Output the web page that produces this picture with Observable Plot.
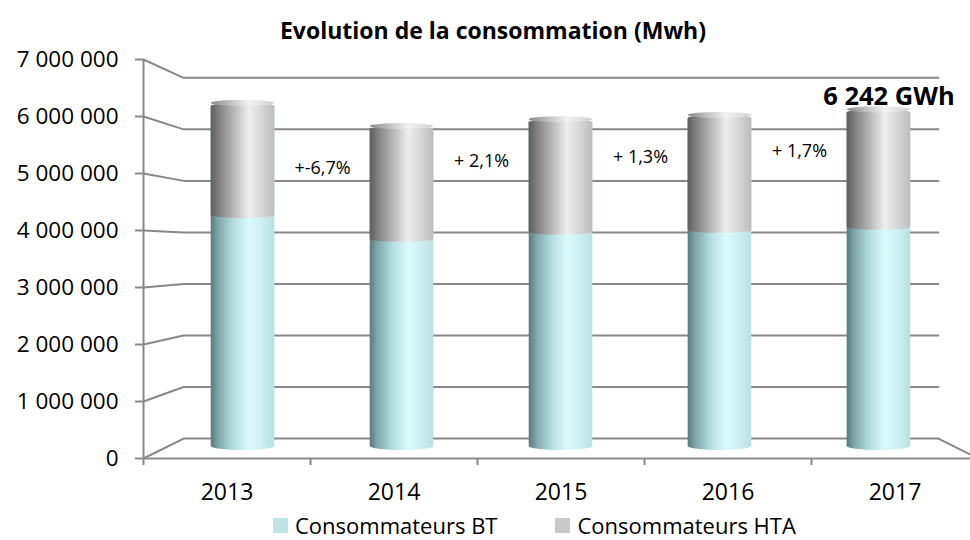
<!DOCTYPE html>
<html>
<head>
<meta charset="utf-8">
<script src="https://cdn.jsdelivr.net/npm/d3@7"></script>
<script src="https://cdn.jsdelivr.net/npm/@observablehq/plot@0.6"></script>
<style>
  body { margin: 0; background: #fff; font-family: "Open Sans", sans-serif; }
  #wrap { width: 970px; height: 540px; position: relative; }
  #title { height: 46px; line-height: 60px; text-align: center; font-weight: bold; font-size: 23px; color: #000; padding-left: 16px; box-sizing: border-box; }
  #legend { display: flex; justify-content: flex-start; align-items: center; gap: 58px; font-size: 22px; line-height: 26px; color: #000; height: 26px; padding-left: 273px; box-sizing: border-box; }
  #legend .item { display: flex; align-items: center; gap: 7px; }
  #legend .sw { width: 15px; height: 15px; display: inline-block; }
  svg { display: block; overflow: visible; }
</style>
</head>
<body>
<div id="wrap">
  <div id="title">Evolution de la consommation (Mwh)</div>
  <div id="chart"></div>
  <div id="legend"></div>
</div>
<script>
// ---- data ----
const years = ["2013", "2014", "2015", "2016", "2017"];
const seriesNames = ["Consommateurs BT", "Consommateurs HTA"];
const bt  = [4240000, 3800000, 3930000, 3965000, 4020000];
const hta = [2120000, 2134000, 2129000, 2173000, 2222000];
const growthLabels = ["+-6,7%", "+ 2,1%", "+ 1,3%", "+ 1,7%"];
const yTicks = [0, 1000000, 2000000, 3000000, 4000000, 5000000, 6000000, 7000000];
const swatchColors = ["#bfe4e5", "#c9c9c9"];

// ---- pseudo-3D projection (in data units) ----
const n = years.length;
const center = {x: n / 2, y: 3650000};
const FRONT = 1, MID = 0.952, BACK = 0.904;
const px = (x, s) => center.x + s * (x - center.x);
const py = (y, s) => center.y + s * (y - center.y);
const fmt = v => d3.format(",")(v).replace(/,/g, " ");

const totals = bt.map((b, i) => b + hta[i]);
const bars = years.map((yr, i) => ({
  i, yr, total: totals[i],
  x1: px(i + 0.3, MID), x2: px(i + 0.7, MID),
  y0: py(0, MID), yb: py(bt[i], MID), yt: py(totals[i], MID)
}));

// gridlines on left + back walls
const grid = [];
yTicks.forEach(v => {
  grid.push({v, x: 0, y: v});
  grid.push({v, x: px(0, BACK), y: py(v, BACK)});
  grid.push({v, x: px(n, BACK), y: py(v, BACK)});
});
// floor right edge
const floorRight = [{x: px(n, BACK), y: py(0, BACK)}, {x: n, y: 0}];

const growth = growthLabels.map((t, k) => ({
  t, x: px(k + 1, MID), y: py(totals[k + 1] - 770000, MID)
}));
const last = bars[n - 1];

const chart = Plot.plot({
  width: 970,
  height: 466,
  marginLeft: 143,
  marginRight: 0,
  marginTop: 13,
  marginBottom: 54,
  style: {fontFamily: "Open Sans, sans-serif", background: "transparent", color: "#000"},
  x: {domain: [0, n], range: [143, 143 + 167 * n], axis: null},
  y: {domain: [0, 7000000], axis: null},
  marks: [
    // walls gridlines
    Plot.line(grid, {x: "x", y: "y", z: "v", stroke: "#888", strokeWidth: 2}),
    Plot.line(floorRight, {x: "x", y: "y", stroke: "#888", strokeWidth: 2}),
    Plot.ruleY([0], {x1: 0, x2: n, stroke: "#8a8a8a", strokeWidth: 2}),
    // y axis
    Plot.ruleX([0], {y1: 0, y2: 7000000, stroke: "#888", strokeWidth: 2}),
    Plot.axisY({ticks: yTicks, tickSize: 8, tickPadding: 17, tickFormat: fmt, fontSize: 22.5, stroke: "#888", strokeWidth: 2, color: "#000"}),
    Plot.axisX({ticks: d3.range(n), tickSize: 7, tickFormat: () => "", stroke: "#888", strokeWidth: 2}),
    // x labels
    Plot.text(years, {x: (d, i) => i + 0.5, y: () => 0, text: d => d, dy: 34, fontSize: 23, lineAnchor: "middle", fill: "#000"}),
    // cylinders: BT full body
    Plot.rect(bars, {x1: "x1", x2: "x2", y1: "y0", y2: "yt", fill: "url(#gBT)", rx: 40, ry: 4, insetBottom: -2}),
    // HTA part
    Plot.rect(bars, {x1: "x1", x2: "x2", y1: "yb", y2: "yt", fill: "url(#gHTA)", rx: 40, ry: 3}),
    // top cap
    Plot.rect(bars, {x1: "x1", x2: "x2", y1: "yt", y2: "yt", fill: "url(#gCap)", rx: 40, ry: 3, insetTop: -3, insetBottom: -3}),
    // growth labels
    Plot.text(growth, {x: "x", y: "y", text: "t", fontSize: 18, fill: "#000"}),
    // total label on last bar
    Plot.text([last], {x: d => (d.x1 + d.x2) / 2, y: "yt", text: d => fmt(Math.round(d.total / 1000)) + " GWh", fontSize: 25.5, fontWeight: "bold", lineAnchor: "bottom", dy: -5, dx: 10, fill: "#000"})
  ]
});

// gradients
const svg = d3.select(chart);
const defs = svg.insert("defs", ":first-child");
function grad(id, stops) {
  const g = defs.append("linearGradient").attr("id", id).attr("x1", "0").attr("x2", "1").attr("y1", "0").attr("y2", "0");
  stops.forEach(([o, c]) => g.append("stop").attr("offset", o).attr("stop-color", c));
}
grad("gBT", [[0, "#587c7e"], [0.12, "#7fa6a8"], [0.35, "#b2dcdf"], [0.6, "#dcfafc"], [0.8, "#cdf1f3"], [1, "#b9dfe1"]]);
grad("gHTA", [[0, "#5e5e5e"], [0.12, "#7e7e7e"], [0.35, "#b4b4b4"], [0.6, "#eeeeee"], [0.8, "#d6d6d6"], [1, "#bdbdbd"]]);
grad("gCap", [[0, "#8a8a8a"], [0.35, "#c8c8c8"], [0.6, "#f2f2f2"], [1, "#d2d2d2"]]);

document.getElementById("chart").appendChild(chart);

// legend
const leg = document.getElementById("legend");
seriesNames.forEach((name, k) => {
  const it = document.createElement("div");
  it.className = "item";
  const sw = document.createElement("span");
  sw.className = "sw";
  sw.style.background = swatchColors[k];
  it.appendChild(sw);
  it.appendChild(document.createTextNode(name));
  leg.appendChild(it);
});
</script>
</body>
</html>
